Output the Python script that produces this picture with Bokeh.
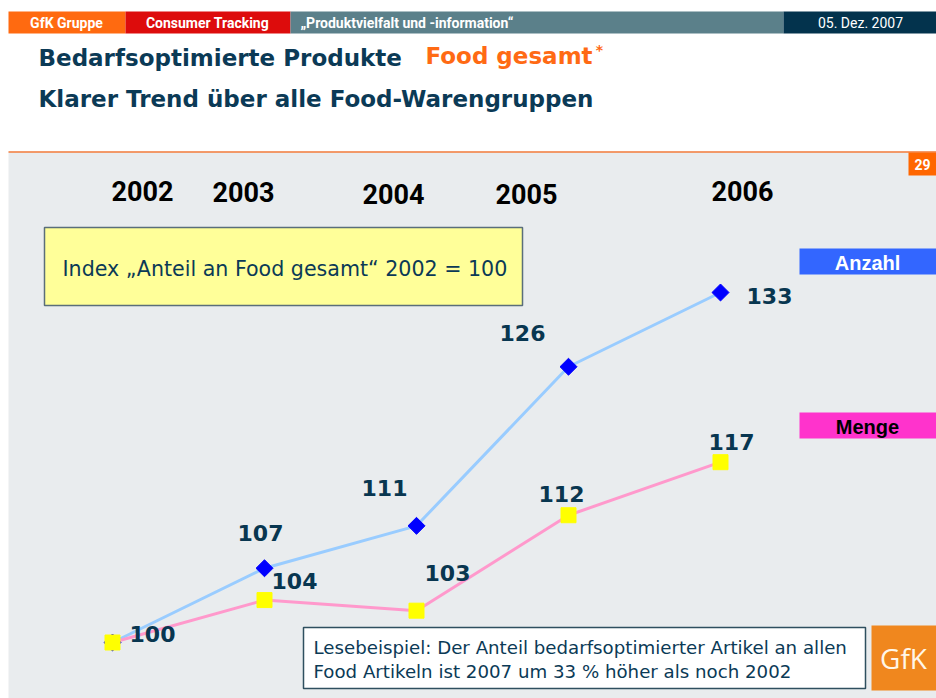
from bokeh.plotting import figure
from bokeh.models import Range1d, ColumnDataSource
from bokeh.core.properties import value
from bokeh.embed import file_html
from bokeh.resources import INLINE

# ---------------- data ----------------
years = [2002, 2003, 2004, 2005, 2006]
year_labels = ["2002", "2003", "2004", "2005", "2006"]
anzahl = [100, 107, 111, 126, 133]
menge = [100, 104, 103, 112, 117]

# ---------------- layout (style) ----------------
W, H = 936, 698
PX_YEAR = 152.0          # pixels per year
PX_IDX = 350.0 / 33.0    # pixels per index point
X_FIRST = 112            # pixel (from left) of first year
Y_BASE = 56              # pixel (from bottom) of index base
BASE = 100

xs = years[0] - X_FIRST / PX_YEAR
ys = BASE - Y_BASE / PX_IDX
x_range = Range1d(xs, xs + W / PX_YEAR)
y_range = Range1d(ys, ys + H / PX_IDX)


def X(rx):
    return xs + rx / PX_YEAR


def Y(ry):
    return ys + (H - ry) / PX_IDX


p = figure(width=W, height=H, x_range=x_range, y_range=y_range,
           output_backend="svg", toolbar_location=None, min_border=0,
           background_fill_color="white", border_fill_color="white")
p.axis.visible = False
p.grid.visible = False
p.outline_line_color = None

NAVY = "#0b3a56"
LBL = "#083650"


def box(l, r, t, b, fill, line=None, lw=1):
    p.quad(left=[X(l)], right=[X(r)], top=[Y(t)], bottom=[Y(b)],
           fill_color=fill, line_color=line, line_width=lw)


def txt(x, y, s, size, color, font="DejaVu Sans", style="normal", align="center"):
    p.text(x=[X(x)], y=[Y(y)], text=[s], text_font=value(font),
           text_font_size=size, text_font_style=style, text_color=color,
           text_align=align, text_baseline="middle")


# header bar
box(8, 125, 11, 33, "#ff6a10")
box(125, 290, 11, 33, "#dd0c0c")
box(290, 783, 11, 33, "#5b808a")
box(783, 940, 11, 33, "#03334d")
txt(66, 22.5, "GfK Gruppe", "14px", "white", "Roboto", "bold")
txt(207, 22.5, "Consumer Tracking", "14px", "white", "Roboto", "bold")
txt(300, 22.5, "\u201eProduktvielfalt und -information\u201c", "14px", "white", "Roboto", "bold", "left")
txt(860, 22.5, "05. Dez. 2007", "14px", "white", "Roboto", "normal")

# titles
txt(38, 57, "Bedarfsoptimierte Produkte", "23px", NAVY, "DejaVu Sans", "bold", "left")
txt(425, 55, "Food gesamt", "23px", "#ff6a14", "DejaVu Sans", "bold", "left")
txt(599, 49, "*", "14px", "#ff6a14", "DejaVu Sans", "bold")
txt(38, 98, "Klarer Trend \u00fcber alle Food-Warengruppen", "23px", NAVY, "DejaVu Sans", "bold", "left")

# panel
box(8, 940, 152, 710, "#e9ecee")
p.segment(x0=[X(8)], x1=[X(940)], y0=[Y(151.5)], y1=[Y(151.5)], line_color="#f07838", line_width=1.5)
box(908, 940, 152, 175, "#ff6600")
txt(914, 164, "29", "14px", "white", "Roboto", "bold", "left")

# index note box
box(44, 522, 227, 305, "#ffff99", "#5a6e7a", 1.5)
txt(62, 268, "Index \u201eAnteil an Food gesamt\u201c 2002 = 100", "20.6px", NAVY, "DejaVu Sans", "normal", "left")

# legend boxes
box(799, 940, 248, 274, "#3366ff")
txt(867, 262, "Anzahl", "20px", "white", "Liberation Sans", "bold")
box(799, 940, 412, 438, "#ff33cc")
txt(867, 426, "Menge", "20px", "black", "Liberation Sans", "bold")

# year labels across the top
year_dx = [30, -21, -23, -42, 22]
year_ry = [190, 191, 193, 193, 190]
ysrc = ColumnDataSource(dict(x=years, y=[Y(r) for r in year_ry], t=year_labels, dx=year_dx))
p.text(x="x", y="y", text="t", x_offset="dx", source=ysrc, text_font=value("Roboto"),
       text_font_size="27px", text_font_style="bold", text_color="black",
       text_align="center", text_baseline="middle")

# series
p.line(years, anzahl, line_color="#99ccff", line_width=3)
p.line(years, menge, line_color="#ff99cc", line_width=3)
p.scatter(years, anzahl, marker="square", angle=0.785398, size=12,
          fill_color="#0000ff", line_color="#0000ff")
p.scatter(years, menge, marker="square", size=15, fill_color="#ffff00", line_color="#ffff00")

# value labels
a_dx = [-4, -32, -46, 49]
a_dy = [-35, -38, -34, 3]
asrc = ColumnDataSource(dict(x=years[1:], y=anzahl[1:], t=[str(v) for v in anzahl[1:]],
                             dx=a_dx, dy=a_dy))
m_dx = [40, 30, 31, -7, 11]
m_dy = [-9, -19, -38, -21, -20]
msrc = ColumnDataSource(dict(x=years, y=menge, t=[str(v) for v in menge], dx=m_dx, dy=m_dy))
for src in (asrc, msrc):
    p.text(x="x", y="y", text="t", x_offset="dx", y_offset="dy", source=src,
           text_font=value("DejaVu Sans"), text_font_size="22px", text_font_style="bold",
           text_color=LBL, text_align="center", text_baseline="middle")

# reading example box
box(303, 865, 627, 688, "white", "#2f4f5f", 1.5)
txt(313, 647, "Lesebeispiel: Der Anteil bedarfsoptimierter Artikel an allen", "18.2px", NAVY, "DejaVu Sans", "normal", "left")
txt(313, 671, "Food Artikeln ist 2007 um 33 % h\u00f6her als noch 2002", "18.2px", NAVY, "DejaVu Sans", "normal", "left")

# GfK logo
box(871, 940, 625, 690, "#f0871e")
txt(903, 657, "GfK", "28px", "#fff6e8", "Open Sans", "normal")

open("out.html", "w").write(file_html(p, INLINE))
